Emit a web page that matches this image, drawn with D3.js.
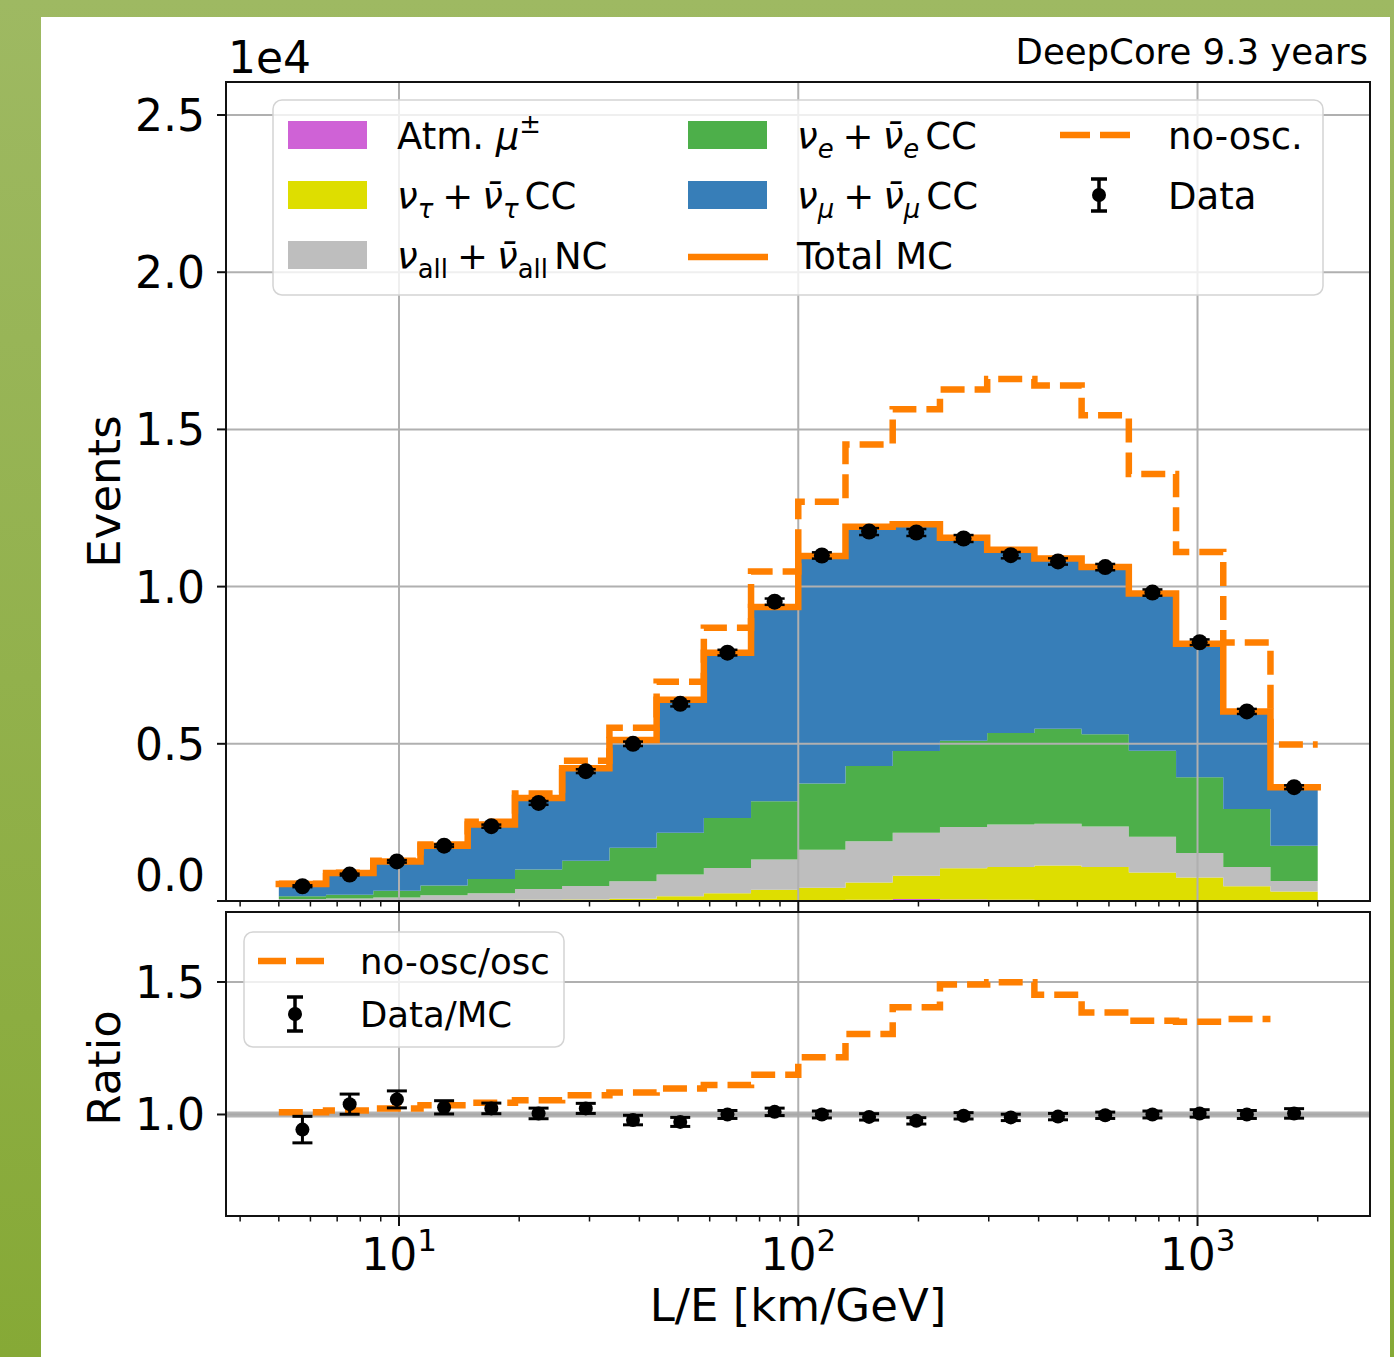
<!DOCTYPE html>
<html><head><meta charset="utf-8">
<script src="https://cdn.jsdelivr.net/npm/d3@7"></script>
<style>
body{margin:0;background:#fff}
svg{display:block}
text{font-family:"DejaVu Sans",sans-serif;white-space:pre}
</style>
</head><body>
<svg id="c" width="1394" height="1357"></svg>
<script>
// ---------------- data (event counts in units of 1e4) ----------------
const binEdges = [5, 6.565, 8.620, 11.32, 14.86, 19.52, 25.62, 33.65, 44.18, 58.01, 76.16, 100.0, 131.3, 172.4, 226.4, 297.3, 390.3, 512.5, 672.9, 883.6, 1160, 1523, 2000];
const atmMu   = [0.001,0.001,0.001,0.001,0.001,0.001,0.001,0.002,0.002,0.002,0.003,0.003,0.004,0.006,0.005,0.004,0.003,0.003,0.002,0.002,0.001,0.001];
const nuTauCC = [0.000,0.000,0.001,0.001,0.002,0.003,0.004,0.005,0.013,0.023,0.033,0.039,0.055,0.074,0.099,0.104,0.110,0.105,0.089,0.073,0.046,0.029];
const nuAllNC = [0.005,0.007,0.009,0.016,0.022,0.034,0.043,0.056,0.069,0.080,0.096,0.121,0.131,0.137,0.131,0.135,0.133,0.129,0.113,0.078,0.061,0.034];
const nuECC   = [0.009,0.012,0.022,0.031,0.045,0.062,0.080,0.106,0.133,0.159,0.185,0.211,0.239,0.260,0.275,0.291,0.302,0.293,0.274,0.241,0.185,0.112];
const nuMuCC  = [0.039,0.069,0.093,0.127,0.173,0.228,0.294,0.343,0.423,0.526,0.618,0.723,0.761,0.721,0.645,0.583,0.541,0.532,0.500,0.424,0.310,0.186];
const noOsc   = [0.055,0.090,0.128,0.180,0.252,0.342,0.446,0.551,0.697,0.869,1.048,1.270,1.452,1.564,1.627,1.660,1.640,1.545,1.358,1.110,0.822,0.498];
const dataEvents = [0.047,0.084,0.126,0.176,0.238,0.312,0.413,0.500,0.627,0.790,0.952,1.099,1.175,1.172,1.153,1.100,1.080,1.062,0.981,0.823,0.603,0.362];
const dataErr    = [0.003,0.003,0.004,0.004,0.005,0.006,0.006,0.007,0.008,0.009,0.010,0.010,0.011,0.011,0.011,0.010,0.010,0.010,0.010,0.009,0.008,0.006];
const ratioNoOsc = [1.008,1.015,1.023,1.035,1.044,1.054,1.073,1.083,1.098,1.111,1.150,1.216,1.304,1.405,1.490,1.499,1.452,1.385,1.354,1.350,1.360];
const ratioData    = [0.943,1.039,1.057,1.027,1.023,1.004,1.023,0.979,0.972,1.000,1.010,1.000,0.991,0.976,0.995,0.989,0.992,0.997,1.000,1.004,1.000,1.004];
const ratioDataErr = [0.050,0.038,0.032,0.025,0.020,0.020,0.019,0.018,0.017,0.015,0.014,0.013,0.012,0.012,0.012,0.012,0.012,0.012,0.013,0.014,0.015,0.018];
const yTicksMain  = [0.0, 0.5, 1.0, 1.5, 2.0, 2.5];
const yTickLabelsMain = ["0.0","0.5","1.0","1.5","2.0","2.5"];
const yTicksRatio = [1.0, 1.5];
const yTickLabelsRatio = ["1.0","1.5"];
const xTicksMajor = [10, 100, 1000];
const xTickExp = ["1","2","3"];

// ---------------- setup ----------------
const svg = d3.select('#c');
const defs = svg.append('defs');
const grad = defs.append('linearGradient').attr('id','bg').attr('x1',0).attr('y1',0).attr('x2',0).attr('y2',1);
grad.append('stop').attr('offset','0%').attr('stop-color','#9eb962');
grad.append('stop').attr('offset','100%').attr('stop-color','#86a936');
svg.append('rect').attr('width',1394).attr('height',1357).attr('fill','url(#bg)');
svg.append('rect').attr('x',41).attr('y',17).attr('width',1349).attr('height',1340).attr('fill','#fff');

const L=226, R=1370, T1=82, B1=901, T2=912, B2=1216;
const x  = d3.scaleLog().domain([3.687, 2704]).range([L, R]);
const y1 = d3.scaleLinear().domain([0, 2.605]).range([B1, T1]);
const y2 = d3.scaleLinear().domain([0.617, 1.764]).range([B2, T2]);

defs.append('clipPath').attr('id','c1').append('rect').attr('x',L).attr('y',T1).attr('width',R-L).attr('height',B1-T1);
defs.append('clipPath').attr('id','c2').append('rect').attr('x',L).attr('y',T2).attr('width',R-L).attr('height',B2-T2);

const GRID = '#b0b0b0', ORANGE = '#ff7f00';
const minorTicks = [];
[1,10,100,1000].forEach(d => { for (let k=2;k<=9;k++){ const v=d*k; if (v>=x.domain()[0] && v<=x.domain()[1]) minorTicks.push(v);} });

const nB = binEdges.length - 1;
const centers = d3.range(nB).map(i => Math.sqrt(binEdges[i]*binEdges[i+1]));
const ext = a => a.concat([a[a.length-1]]);

// ---------------- main panel ----------------
const g1 = svg.append('g').attr('clip-path','url(#c1)');
const rows = d3.range(nB).map(i => ({atm:atmMu[i], tau:nuTauCC[i], nc:nuAllNC[i], nue:nuECC[i], numu:nuMuCC[i]}));
const keys = ['atm','tau','nc','nue','numu'];
const colors = {atm:'#cf62d6', tau:'#dede00', nc:'#bebebe', nue:'#4daf4a', numu:'#377eb8'};
const series = d3.stack().keys(keys)(rows);
const area = d3.area().curve(d3.curveStepAfter)
  .x((d,i) => x(binEdges[i])).y0(d => y1(d[0])).y1(d => y1(d[1]));
g1.selectAll('path.layer').data(series).join('path').attr('class','layer')
  .attr('d', s => area(ext(Array.from(s)))).attr('fill', s => colors[s.key]);

// grid
g1.selectAll('line.gy').data(yTicksMain).join('line').attr('x1',L).attr('x2',R)
  .attr('y1',d=>y1(d)).attr('y2',d=>y1(d)).attr('stroke',GRID).attr('stroke-width',2);
g1.selectAll('line.gx').data(xTicksMajor).join('line').attr('y1',T1).attr('y2',B1)
  .attr('x1',d=>x(d)).attr('x2',d=>x(d)).attr('stroke',GRID).attr('stroke-width',2);

const stepLine = (ys) => d3.line().curve(d3.curveStepAfter).x((d,i)=>x(binEdges[i])).y(d=>ys(d));
g1.append('path').attr('d', stepLine(y1)(ext(noOsc))).attr('fill','none')
  .attr('stroke',ORANGE).attr('stroke-width',6.5).attr('stroke-dasharray','24,10');
const totalMC = series[series.length-1].map(d => d[1]);
g1.append('path').attr('d', stepLine(y1)(ext(totalMC))).attr('fill','none')
  .attr('stroke',ORANGE).attr('stroke-width',6.5).attr('stroke-linecap','square');

function errbars(g, xs, vals, errs, ys, cap, r, sw){
  const e = g.append('g');
  xs.forEach((c,i) => {
    const cx = x(c), ya = ys(vals[i]-errs[i]), yb = ys(vals[i]+errs[i]);
    e.append('line').attr('x1',cx).attr('x2',cx).attr('y1',ya).attr('y2',yb).attr('stroke','#000').attr('stroke-width',sw);
    [ya,yb].forEach(yy => e.append('line').attr('x1',cx-cap/2).attr('x2',cx+cap/2).attr('y1',yy).attr('y2',yy).attr('stroke','#000').attr('stroke-width',sw));
    e.append('circle').attr('cx',cx).attr('cy',ys(vals[i])).attr('r',r).attr('fill','#000');
  });
}
errbars(g1, centers, dataEvents, dataErr, y1, 20, 8, 2.5);

// ---------------- ratio panel ----------------
const g2 = svg.append('g').attr('clip-path','url(#c2)');
g2.selectAll('line.gy').data(yTicksRatio).join('line').attr('x1',L).attr('x2',R)
  .attr('y1',d=>y2(d)).attr('y2',d=>y2(d)).attr('stroke',GRID).attr('stroke-width',2);
g2.selectAll('line.gx').data(xTicksMajor).join('line').attr('y1',T2).attr('y2',B2)
  .attr('x1',d=>x(d)).attr('x2',d=>x(d)).attr('stroke',GRID).attr('stroke-width',2);
g2.append('line').attr('x1',L).attr('x2',R).attr('y1',y2(1)).attr('y2',y2(1))
  .attr('stroke','#a8a8a8').attr('stroke-width',6).attr('opacity',0.85);
g2.append('path').attr('d', stepLine(y2)(ext(ratioNoOsc))).attr('fill','none')
  .attr('stroke',ORANGE).attr('stroke-width',6.5).attr('stroke-dasharray','24,10');
errbars(g2, centers, ratioData, ratioDataErr, y2, 20, 7, 3);

// ---------------- axes ----------------
const ax = svg.append('g');
function spines(top,bottom){
  ax.append('rect').attr('x',L).attr('y',top).attr('width',R-L).attr('height',bottom-top)
    .attr('fill','none').attr('stroke','#111').attr('stroke-width',2);
}
spines(T1,B1); spines(T2,B2);
function xticks(yb){
  xTicksMajor.forEach(v => ax.append('line').attr('x1',x(v)).attr('x2',x(v)).attr('y1',yb).attr('y2',yb+10).attr('stroke','#111').attr('stroke-width',2));
  minorTicks.forEach(v => ax.append('line').attr('x1',x(v)).attr('x2',x(v)).attr('y1',yb).attr('y2',yb+5.5).attr('stroke','#111').attr('stroke-width',1.5));
}
xticks(B1); xticks(B2);
yTicksMain.forEach((v,i) => {
  ax.append('line').attr('x1',L-9).attr('x2',L).attr('y1',y1(v)).attr('y2',y1(v)).attr('stroke','#111').attr('stroke-width',2);
  ax.append('text').attr('x',205).attr('y', i===0 ? y1(v)-10 : y1(v)+16).attr('text-anchor','end')
    .attr('font-size',44).text(yTickLabelsMain[i]);
});
yTicksRatio.forEach((v,i) => {
  ax.append('line').attr('x1',L-9).attr('x2',L).attr('y1',y2(v)).attr('y2',y2(v)).attr('stroke','#111').attr('stroke-width',2);
  ax.append('text').attr('x',205).attr('y',y2(v)+16).attr('text-anchor','end').attr('font-size',44).text(yTickLabelsRatio[i]);
});
xTicksMajor.forEach((v,i) => {
  const t = ax.append('text').attr('x',x(v)).attr('y',1270).attr('text-anchor','middle').attr('font-size',44);
  t.append('tspan').text('10');
  t.append('tspan').attr('dy',-19).attr('font-size',31).text(xTickExp[i]);
});
ax.append('text').attr('x',798).attr('y',1321).attr('text-anchor','middle').attr('font-size',45).text('L/E [km/GeV]');
ax.append('text').attr('transform',`translate(120,${(T1+B1)/2}) rotate(-90)`).attr('text-anchor','middle').attr('font-size',45).text('Events');
ax.append('text').attr('transform',`translate(120,${(T2+B2)/2+4}) rotate(-90)`).attr('text-anchor','middle').attr('font-size',45).text('Ratio');
ax.append('text').attr('x',228).attr('y',73).attr('font-size',44).text('1e4');
ax.append('text').attr('x',1368).attr('y',64).attr('text-anchor','end').attr('font-size',35.5).text('DeepCore 9.3 years');

// ---------------- legends ----------------
function mtext(g, xp, yp, parts, size){
  const t = g.append('text').attr('x',xp).attr('y',yp).attr('font-size',size).attr('fill','#000');
  let shift = 0;
  parts.forEach(p => {
    const target = p.sub ? size*0.24 : (p.sup ? -size*0.42 : 0);
    const ts = t.append('tspan').attr('dy', target - shift).text(p.t);
    if (p.dx) ts.attr('dx', p.dx);
    shift = target;
    if (p.sub || p.sup) ts.attr('font-size', size*0.7);
    if (p.it) ts.attr('font-style','italic');
  });
}
const lg = svg.append('g');
lg.append('rect').attr('x',273).attr('y',100).attr('width',1050).attr('height',195).attr('rx',9)
  .attr('fill','#fff').attr('fill-opacity',0.8).attr('stroke','#d4d4d4').attr('stroke-width',1.5);
const rowsY = [135, 195, 255];
const FS = 37;
const nb = '\u03bd\u0304';
const nuPair = (sub, subIt, tail) => [
  {t:'\u03bd',it:1},{t:sub,it:subIt,sub:1},{t:'+',dx:9},{t:nb,it:1,dx:9},{t:sub,it:subIt,sub:1},{t:tail,dx:6}
];
const legendPatches = [
  {c:colors.atm, col:0, row:0, parts:[{t:'Atm. '},{t:'\u03bc',it:1},{t:'\u00b1',sup:1}]},
  {c:colors.tau, col:0, row:1, parts:nuPair('\u03c4',1,'CC')},
  {c:colors.nc,  col:0, row:2, parts:nuPair('all',0,'NC')},
  {c:colors.nue, col:1, row:0, parts:nuPair('e',1,'CC')},
  {c:colors.numu,col:1, row:1, parts:nuPair('\u03bc',1,'CC')}
];
const colPatchX = [288, 688], colTextX = [397, 797];
legendPatches.forEach(p => {
  lg.append('rect').attr('x',colPatchX[p.col]).attr('y',rowsY[p.row]-14).attr('width',79).attr('height',28).attr('fill',p.c);
  mtext(lg, colTextX[p.col], rowsY[p.row]+14, p.parts, FS);
});
lg.append('line').attr('x1',688).attr('x2',768).attr('y1',rowsY[2]+2).attr('y2',rowsY[2]+2).attr('stroke',ORANGE).attr('stroke-width',6.5);
mtext(lg, 797, rowsY[2]+14, [{t:'Total MC'}], FS);
lg.append('line').attr('x1',1060).attr('x2',1134).attr('y1',rowsY[0]).attr('y2',rowsY[0]).attr('stroke',ORANGE).attr('stroke-width',6.5).attr('stroke-dasharray','30,10');
mtext(lg, 1168, rowsY[0]+14, [{t:'no-osc.'}], FS);
function dataHandle(g, cx, cy, h, r, sw){
  g.append('line').attr('x1',cx).attr('x2',cx).attr('y1',cy-h).attr('y2',cy+h).attr('stroke','#000').attr('stroke-width',sw);
  [cy-h, cy+h].forEach(yy => g.append('line').attr('x1',cx-8).attr('x2',cx+8).attr('y1',yy).attr('y2',yy).attr('stroke','#000').attr('stroke-width',sw));
  g.append('circle').attr('cx',cx).attr('cy',cy).attr('r',r).attr('fill','#000');
}
dataHandle(lg, 1099, rowsY[1], 16, 7, 3.5);
mtext(lg, 1168, rowsY[1]+14, [{t:'Data'}], FS);

const lg2 = svg.append('g');
lg2.append('rect').attr('x',244).attr('y',932).attr('width',320).attr('height',115).attr('rx',9)
  .attr('fill','#fff').attr('fill-opacity',0.8).attr('stroke','#d4d4d4').attr('stroke-width',1.5);
lg2.append('line').attr('x1',258).attr('x2',330).attr('y1',961).attr('y2',961).attr('stroke',ORANGE).attr('stroke-width',6.5).attr('stroke-dasharray','28,10');
mtext(lg2, 360, 974, [{t:'no-osc/osc'}], 35.5);
dataHandle(lg2, 295, 1014, 17, 7, 3.5);
mtext(lg2, 360, 1027, [{t:'Data/MC'}], 35.5);
</script>
</body></html>
